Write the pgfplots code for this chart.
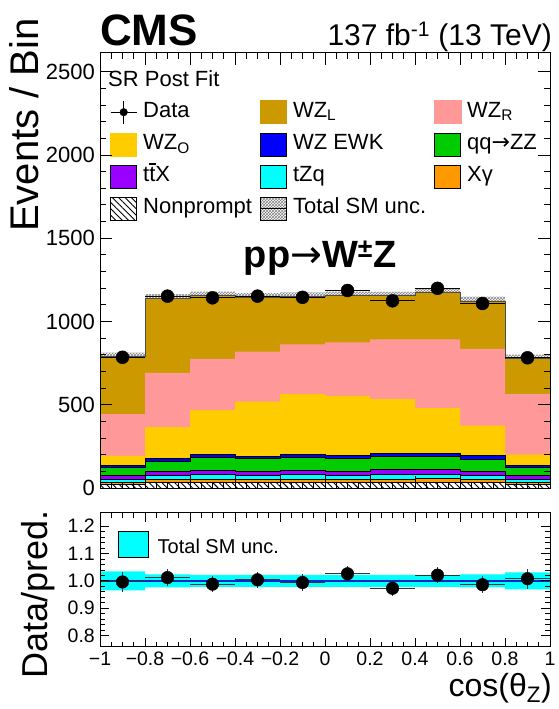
\documentclass[border=0pt]{standalone}
\usepackage{pgfplots}
\pgfplotsset{compat=1.18}
\usepackage{pgfplotstable}
\usepgfplotslibrary{fillbetween}
\usetikzlibrary{patterns,patterns.meta}
\usepackage{fontspec}
\setmainfont{Liberation Sans}
\newfontfamily\arrowfont{DejaVu Sans}
\newcommand{\arr}{{\arrowfont →}}

\definecolor{wzl}{RGB}{204,153,0}
\definecolor{wzr}{RGB}{255,153,153}
\definecolor{wzo}{RGB}{255,204,0}
\definecolor{ewk}{RGB}{0,0,255}
\definecolor{zz}{RGB}{0,204,0}
\definecolor{ttx}{RGB}{153,0,255}
\definecolor{tzq}{RGB}{0,255,255}
\definecolor{xg}{RGB}{255,153,0}
\definecolor{oneline}{RGB}{0,40,200}

% cumulative stack tops per bin (x = left bin edge), last row closes the final bin
\pgfplotstableread{
x    np  xg  tzq ttx zz  ewk wzo wzr tot  blo  bhi  rlo   rhi
-1.0 25  35  50  75  123 133 193 443 788  763  813  0.965 1.035
-0.8 32  52  78  100 162 178 365 692 1138 1112 1164 0.976 1.024
-0.6 32  52  82  108 184 202 468 775 1156 1133 1179 0.978 1.022
-0.4 32  50  78  102 178 192 518 819 1147 1124 1170 0.978 1.022
-0.2 32  52  80  106 184 202 563 863 1152 1129 1175 0.978 1.022
 0.0 32  50  78  102 178 194 553 875 1156 1133 1179 0.978 1.022
 0.2 32  52  82  110 188 208 533 893 1155 1132 1178 0.978 1.022
 0.4 32  56  84  110 188 208 479 893 1174 1151 1197 0.978 1.022
 0.6 32  50  78  102 172 198 374 835 1124 1099 1149 0.976 1.024
 0.8 25  35  50  75  123 134 200 563 776  751  801  0.969 1.031
 1.0 25  35  50  75  123 134 200 563 776  751  801  0.969 1.031
}\stack

\pgfplotstableread{
x    y    ey  r     er
-0.9 785  28  0.996 0.036
-0.7 1152 34  1.012 0.030
-0.5 1142 34  0.988 0.030
-0.3 1152 34  1.004 0.030
-0.1 1145 34  0.994 0.030
 0.1 1186 34  1.026 0.030
 0.3 1124 34  0.973 0.030
 0.5 1199 35  1.021 0.030
 0.7 1108 33  0.986 0.030
 0.9 782  28  1.008 0.036
}\data

\begin{document}
\begin{tikzpicture}

% ---------------- main panel ----------------
\begin{axis}[
  at={(100pt,-488pt)}, anchor=south west,
  width=450pt, height=435pt, scale only axis,
  xmin=-1, xmax=1, ymin=0, ymax=2612,
  xtick={-1,-0.8,-0.6,-0.4,-0.2,0,0.2,0.4,0.6,0.8,1}, xticklabels={},
  minor x tick num=3,
  ytick={0,500,1000,1500,2000,2500}, yticklabels={0,500,1000,1500,2000,2500},
  minor y tick num=4,
  tick pos=both, tick align=inside,
  major tick length=12pt, minor tick length=6pt,
  every tick/.style={black, line width=0.8pt},
  axis line style={line width=1pt},
  yticklabel style={font=\fontsize{22}{22}\selectfont, inner sep=0pt, xshift=-5pt},
  axis on top,
  ylabel={Events / Bin},
  every axis y label/.style={at={(axis description cs:-0.1356,1.080)}, anchor=base east, rotate=90, inner sep=0pt, font=\fontsize{40}{40}\selectfont},
  legend columns=3,
  legend cell align=left,
  legend style={at={(0.0222,0.892)}, anchor=north west, draw=none, fill=none, inner sep=0pt,
    font=\fontsize{22}{22}\selectfont,
    nodes={inner sep=0pt, text height=17pt, text depth=6pt},
    row sep=8.3pt,
    /tikz/every odd column/.append style={column sep=6pt},
    /tikz/every even column/.append style={column sep=8pt}},
]
% stacked components (drawn from the top of the stack downwards)
\addplot[const plot mark left, fill=wzl, draw=none, forget plot] table[x=x,y=tot]{\stack} \closedcycle;
\addplot[const plot mark left, fill=wzr, draw=none, forget plot] table[x=x,y=wzr]{\stack} \closedcycle;
\addplot[const plot mark left, fill=wzo, draw=none, forget plot] table[x=x,y=wzo]{\stack} \closedcycle;
\addplot[const plot mark left, fill=ewk, draw=black, line width=0.9pt, forget plot] table[x=x,y=ewk]{\stack} \closedcycle;
\addplot[const plot mark left, fill=zz, draw=black, line width=0.8pt, forget plot] table[x=x,y=zz]{\stack} \closedcycle;
\addplot[const plot mark left, fill=ttx, draw=black, line width=0.8pt, forget plot] table[x=x,y=ttx]{\stack} \closedcycle;
\addplot[const plot mark left, fill=tzq, draw=black, line width=0.8pt, forget plot] table[x=x,y=tzq]{\stack} \closedcycle;
\addplot[const plot mark left, fill=xg, draw=black, line width=0.8pt, forget plot] table[x=x,y=xg]{\stack} \closedcycle;
\addplot[const plot mark left, fill=white, draw=black, line width=0.6pt, forget plot,
  postaction={pattern={Lines[angle=-45,distance=4.5pt,line width=0.9pt]}, pattern color=black}] table[x=x,y=np]{\stack} \closedcycle;
% total uncertainty band
\addplot[const plot mark left, draw=none, name path=bhi, forget plot] table[x=x,y=bhi]{\stack};
\addplot[const plot mark left, draw=none, name path=blo, forget plot] table[x=x,y=blo]{\stack};
\addplot[pattern=crosshatch, pattern color=black!50, forget plot] fill between[of=bhi and blo];
\addplot[const plot mark left, draw=black!70, line width=0.6pt, forget plot] table[x=x,y=tot]{\stack};
% data
\addplot[only marks, mark=*, mark size=6.5pt, black, forget plot,
  error bars/.cd, x dir=both, x fixed=0.1, y dir=both, y explicit, error mark=none,
  error bar style={line width=1pt, black}]
  table[x=x, y=y, y error=ey]{\data};

% legend
\addlegendimage{legend image code/.code={
  \draw[black, line width=1pt] (0pt,-0.5pt) -- (26pt,-0.5pt);
  \draw[black, line width=1pt] (13pt,-12pt) -- (13pt,11pt);
  \fill[black] (13pt,-0.5pt) circle (3.8pt);}}
\addlegendentry{Data}
\addlegendimage{legend image code/.code={\fill[wzl] (0pt,-12pt) rectangle (26pt,11pt);}}
\addlegendentry{WZ\textsubscript{L}}
\addlegendimage{legend image code/.code={\fill[wzr] (0pt,-12pt) rectangle (26pt,11pt);}}
\addlegendentry{WZ\textsubscript{R}}
\addlegendimage{legend image code/.code={\fill[wzo] (0pt,-12pt) rectangle (26pt,11pt);}}
\addlegendentry{WZ\textsubscript{O}}
\addlegendimage{legend image code/.code={\draw[fill=ewk, draw=black, line width=0.8pt] (0pt,-12pt) rectangle (26pt,11pt);}}
\addlegendentry{WZ EWK}
\addlegendimage{legend image code/.code={\draw[fill=zz, draw=black, line width=0.8pt] (0pt,-12pt) rectangle (26pt,11pt);}}
\addlegendentry{qq\arr ZZ}
\addlegendimage{legend image code/.code={\draw[fill=ttx, draw=black, line width=0.8pt] (0pt,-12pt) rectangle (26pt,11pt);}}
\addlegendentry{t\rlap{\rule[0.76em]{0.3em}{0.07em}}tX}
\addlegendimage{legend image code/.code={\draw[fill=tzq, draw=black, line width=0.8pt] (0pt,-12pt) rectangle (26pt,11pt);}}
\addlegendentry{tZq}
\addlegendimage{legend image code/.code={\draw[fill=xg, draw=black, line width=0.8pt] (0pt,-12pt) rectangle (26pt,11pt);}}
\addlegendentry{Xγ}
\addlegendimage{legend image code/.code={\fill[white] (0pt,-12pt) rectangle (26pt,11pt);
  \fill[pattern={Lines[angle=-45,distance=4.5pt,line width=0.9pt]}, pattern color=black] (0pt,-12pt) rectangle (26pt,11pt);
  \draw[black, line width=0.8pt] (0pt,-12pt) rectangle (26pt,11pt);}}
\addlegendentry{Nonprompt}
\addlegendimage{legend image code/.code={\fill[pattern=crosshatch, pattern color=black!50] (0pt,-12pt) rectangle (26pt,11pt);
  \draw[black, line width=1pt] (0pt,-0.5pt) -- (26pt,-0.5pt);}}
\addlegendentry{Total SM unc.}
\end{axis}

% ---------------- ratio panel ----------------
\begin{axis}[
  at={(100pt,-646.5pt)}, anchor=south west,
  width=450pt, height=134pt, scale only axis,
  xmin=-1, xmax=1, ymin=0.76, ymax=1.25,
  xtick={-1,-0.8,-0.6,-0.4,-0.2,0,0.2,0.4,0.6,0.8,1},
  xticklabels={−1,−0.8,−0.6,−0.4,−0.2,0,0.2,0.4,0.6,0.8,1},
  minor x tick num=3,
  ytick={0.8,0.9,1.0,1.1,1.2}, yticklabels={0.8,0.9,1.0,1.1,1.2},
  minor y tick num=4,
  tick pos=both, tick align=inside,
  major tick length=9pt, minor tick length=5pt,
  every tick/.style={black, line width=0.8pt},
  axis line style={line width=1pt},
  yticklabel style={font=\fontsize{19.5}{19.5}\selectfont, inner sep=0pt, xshift=-5pt},
  xticklabel style={font=\fontsize{19.5}{19.5}\selectfont, inner sep=0pt, yshift=-5pt},
  axis on top,
  ylabel={Data/pred.},
  every axis y label/.style={at={(axis description cs:-0.1156,1.0187)}, anchor=base east, rotate=90, inner sep=0pt, font=\fontsize{36}{36}\selectfont},
  xlabel={cos(θ\textsubscript{Z})},
  every axis x label/.style={at={(axis description cs:1.0044,-0.3694)}, anchor=base east, inner sep=0pt, font=\fontsize{32}{32}\selectfont},
  legend cell align=left,
  legend style={at={(0.04,0.8635)}, anchor=north west, draw=none, fill=none, inner sep=0pt,
    font=\fontsize{20}{20}\selectfont,
    nodes={inner sep=0pt},
    /tikz/every odd column/.append style={column sep=8.7pt}},
]
\addplot[const plot mark left, draw=none, name path=rhi, forget plot] table[x=x,y=rhi]{\stack};
\addplot[const plot mark left, draw=none, name path=rlo, forget plot] table[x=x,y=rlo]{\stack};
\addplot[fill=tzq, draw=none, forget plot] fill between[of=rhi and rlo];
\addplot[oneline, line width=1.6pt, forget plot] coordinates {(-1,1) (1,1)};
\addplot[only marks, mark=*, mark size=6.3pt, black, forget plot,
  error bars/.cd, x dir=both, x fixed=0.1, y dir=both, y explicit, error mark=none,
  error bar style={line width=1pt, black!80}]
  table[x=x, y=r, y error=er]{\data};
\addlegendimage{legend image code/.code={\draw[fill=tzq, draw=black, line width=0.8pt] (0pt,-10.7pt) rectangle (30pt,15.3pt);}}
\addlegendentry{Total SM unc.}
\end{axis}

% ---------------- texts ----------------
\node[anchor=base west, inner sep=0pt, font=\fontsize{44}{44}\selectfont\bfseries] at (100pt,-46pt) {CMS};
\node[anchor=base east, inner sep=0pt, font=\fontsize{30}{30}\selectfont] at (552pt,-46pt) {137 fb\textsuperscript{-1} (13 TeV)};
\node[anchor=base west, inner sep=0pt, font=\fontsize{22}{22}\selectfont] at (108pt,-86.7pt) {SR Post Fit};
\node[anchor=base, inner sep=0pt, font=\fontsize{38}{38}\selectfont\bfseries] at (320pt,-267pt) {pp{\mdseries\arr}W\textsuperscript{±}Z};

\pgfresetboundingbox
\path[use as bounding box] (0pt,0pt) rectangle (558pt,-709pt);
\end{tikzpicture}
\end{document}
